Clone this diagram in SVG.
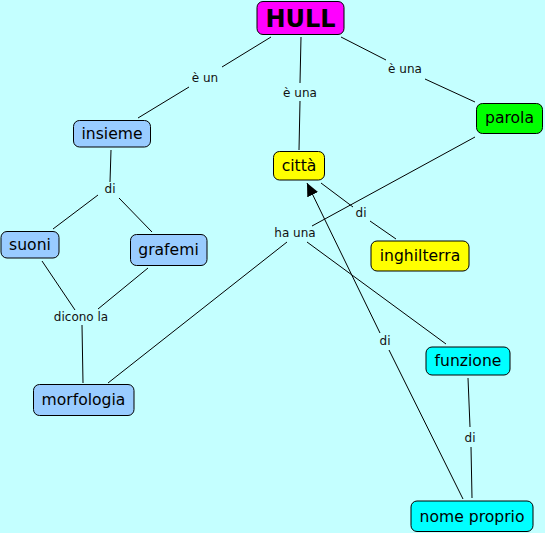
<svg xmlns="http://www.w3.org/2000/svg" width="545" height="533" viewBox="0 0 545 533">
<defs>
<style>
.n rect{stroke:#000;stroke-width:1;}
.n text{font-family:"DejaVu Sans",Verdana,sans-serif;font-size:15.6px;fill:#000;text-anchor:middle;}
.c line{stroke:#000;stroke-width:1;fill:none;}
.l{font-family:"DejaVu Sans",Verdana,sans-serif;font-size:12px;fill:#111;text-anchor:middle;}
</style>
<marker id="ah" markerUnits="userSpaceOnUse" markerWidth="14" markerHeight="12" refX="13" refY="6" orient="auto">
<path d="M0,0 L13,6 L0,12 Z" fill="#000"/>
</marker>
</defs>
<rect width="545" height="533" fill="#c4ffff"/>
<g id="connectors" class="c">
<line x1="271" y1="37" x2="222" y2="67"/>
<line x1="189" y1="87" x2="138" y2="118"/>
<line x1="301" y1="37" x2="300" y2="83"/>
<line x1="300" y1="101" x2="299" y2="150"/>
<line x1="341" y1="37" x2="386" y2="60"/>
<line x1="425" y1="79" x2="475" y2="102"/>
<line x1="111" y1="150" x2="110" y2="182"/>
<line x1="98" y1="195" x2="53" y2="229"/>
<line x1="119" y1="198" x2="152" y2="232"/>
<line x1="42" y1="261" x2="75" y2="310"/>
<line x1="148" y1="268" x2="98" y2="309"/>
<line x1="82" y1="325" x2="83" y2="383"/>
<line x1="475" y1="137" x2="312" y2="226"/>
<line x1="287" y1="242" x2="108" y2="383"/>
<line x1="307" y1="242" x2="446" y2="344"/>
<line x1="321" y1="183" x2="353" y2="207"/>
<line x1="370" y1="221" x2="396" y2="239"/>
<line x1="463" y1="499" x2="389" y2="350"/>
<line x1="380" y1="333" x2="307" y2="183" marker-end="url(#ah)"/>
<line x1="468" y1="378" x2="470" y2="427"/>
<line x1="471" y1="447" x2="472" y2="498"/>
<text class="l" x="205" y="82">è un</text>
<text class="l" x="300" y="97">è una</text>
<text class="l" x="405" y="73">è una</text>
<text class="l" x="110" y="193">di</text>
<text class="l" x="81" y="321">dicono la</text>
<text class="l" x="295" y="237">ha una</text>
<text class="l" x="361" y="217">di</text>
<text class="l" x="385" y="345">di</text>
<text class="l" x="470" y="442">di</text>
</g>
<g id="hull" class="n"><rect x="257" y="1.5" width="87" height="33" rx="6" fill="#ff00ff"/><text x="300.5" y="27" style="font-weight:bold;font-size:24px">HULL</text></g>
<g id="insieme" class="n"><rect x="73.5" y="120.5" width="77" height="26.5" rx="6" fill="#99ccff"/><text x="112" y="139">insieme</text></g>
<g id="citta" class="n"><rect x="273.5" y="151.5" width="51" height="28.5" rx="6" fill="#ffff00"/><text x="299" y="171">città</text></g>
<g id="parola" class="n"><rect x="476.5" y="103.5" width="66" height="30" rx="6" fill="#00ff00"/><text x="509.5" y="123">parola</text></g>
<g id="suoni" class="n"><rect x="1" y="231.5" width="58" height="26.5" rx="6" fill="#99ccff"/><text x="30" y="250">suoni</text></g>
<g id="grafemi" class="n"><rect x="130.5" y="234.5" width="76.5" height="31" rx="6" fill="#99ccff"/><text x="168.5" y="255">grafemi</text></g>
<g id="inghilterra" class="n"><rect x="371" y="241" width="98" height="30" rx="6" fill="#ffff00"/><text x="420" y="261">inghilterra</text></g>
<g id="morfologia" class="n"><rect x="33.5" y="384.5" width="100.5" height="31" rx="6" fill="#99ccff"/><text x="83.5" y="405">morfologia</text></g>
<g id="funzione" class="n"><rect x="426" y="347" width="84" height="28" rx="6" fill="#00ffff"/><text x="468" y="366">funzione</text></g>
<g id="nome_proprio" class="n"><rect x="411" y="501" width="122" height="30.5" rx="6" fill="#00ffff"/><text x="472" y="522">nome proprio</text></g>
</svg>
